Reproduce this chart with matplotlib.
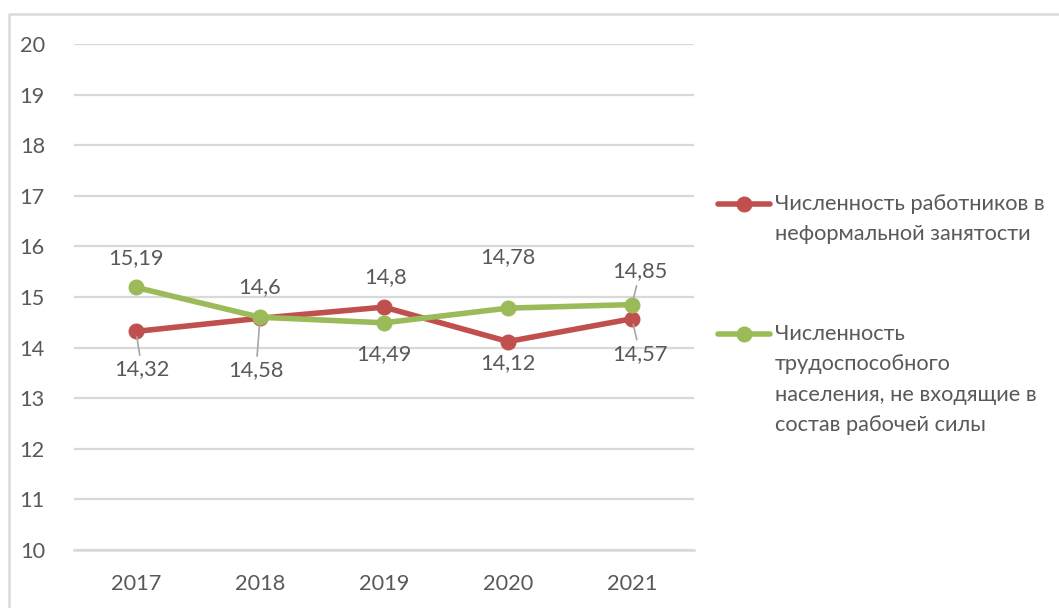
import matplotlib
matplotlib.use("Agg")
import matplotlib.pyplot as plt

plt.rcParams['font.family'] = ['Lato', 'DejaVu Sans']

# data
years = ['2017', '2018', '2019', '2020', '2021']
informal = [14.32, 14.58, 14.8, 14.12, 14.57]
outside_lf = [15.19, 14.6, 14.49, 14.78, 14.85]
informal_name = ['Численность работников в', 'неформальной занятости']
outside_name = ['Численность', 'трудоспособного', 'населения, не входящие в', 'состав рабочей силы']

red = '#C0504D'
green = '#9BBB59'
grid = '#D9D9D9'
txt = '#595959'
fs = 15.7

W, H = 1059, 608
fig = plt.figure(figsize=(W / 100, H / 100), dpi=100)
ax = fig.add_axes([74 / W, 1 - 550 / H, 620 / W, 506 / H])

x = list(range(len(years)))
ax.plot(x, informal, color=red, lw=4, marker='o', ms=10.5, solid_capstyle='round', zorder=3)
ax.plot(x, outside_lf, color=green, lw=4, marker='o', ms=10.5, solid_capstyle='round', zorder=3)

ax.set_xlim(-0.5, 4.5)
ax.set_ylim(10, 20)
ax.set_yticks(range(10, 21))
ax.set_xticks(x)
ax.set_xticklabels(years)
ax.tick_params(length=0, labelsize=fs, labelcolor=txt)
ax.tick_params(axis='y', pad=21)
ax.tick_params(axis='x', pad=17)
ax.grid(axis='y', color=grid, lw=1.6)
ax.set_axisbelow(True)
for s in ['top', 'right', 'left']:
    ax.spines[s].set_visible(False)
ax.spines['bottom'].set_color(grid)
ax.spines['bottom'].set_linewidth(1.8)

# data labels: (offset x px, offset y px, leader line)
red_off = [(6, -38, True), (-4, -52, True), (1, 30, False), (0, -22, False), (8, -35, True)]
green_off = [(0, 29, False), (0, 30, False), (0, -31, False), (0, 51, False), (8, 33, True)]

def fmt(v):
    return ('%g' % v).replace('.', ',')

for vals, offs in [(informal, red_off), (outside_lf, green_off)]:
    for i, v in enumerate(vals):
        dx, dy, lead = offs[i]
        kw = {}
        if lead:
            kw['arrowprops'] = dict(arrowstyle='-', color='#A6A6A6', lw=1.2, shrinkA=1, shrinkB=4)
        ax.annotate(fmt(v), (i, v), xytext=(dx, dy), textcoords='offset pixels',
                    ha='center', va='center', fontsize=fs, color=txt, zorder=4, **kw)

# overlay in pixel coords for frame and legend
ov = fig.add_axes([0, 0, 1, 1], zorder=-1)
ov.set_xlim(0, W)
ov.set_ylim(H, 0)
ov.axis('off')
ov.plot([9, 9, W], [H, 14, 14], color=grid, lw=1.8)

fig_ov = fig.add_axes([0, 0, 1, 1], zorder=5)
fig_ov.set_xlim(0, W)
fig_ov.set_ylim(H, 0)
fig_ov.axis('off')
fig_ov.patch.set_alpha(0)

for color, lines, y0 in [(red, informal_name, 204), (green, outside_name, 334)]:
    fig_ov.plot([718, 770], [y0, y0], color=color, lw=4, solid_capstyle='round')
    fig_ov.plot([744], [y0], color=color, marker='o', ms=10.5)
    for k, line in enumerate(lines):
        fig_ov.text(775, y0 + k * 30.3, line, fontsize=fs, color=txt, va='center', ha='left')

fig.savefig('out.png', dpi=100)
